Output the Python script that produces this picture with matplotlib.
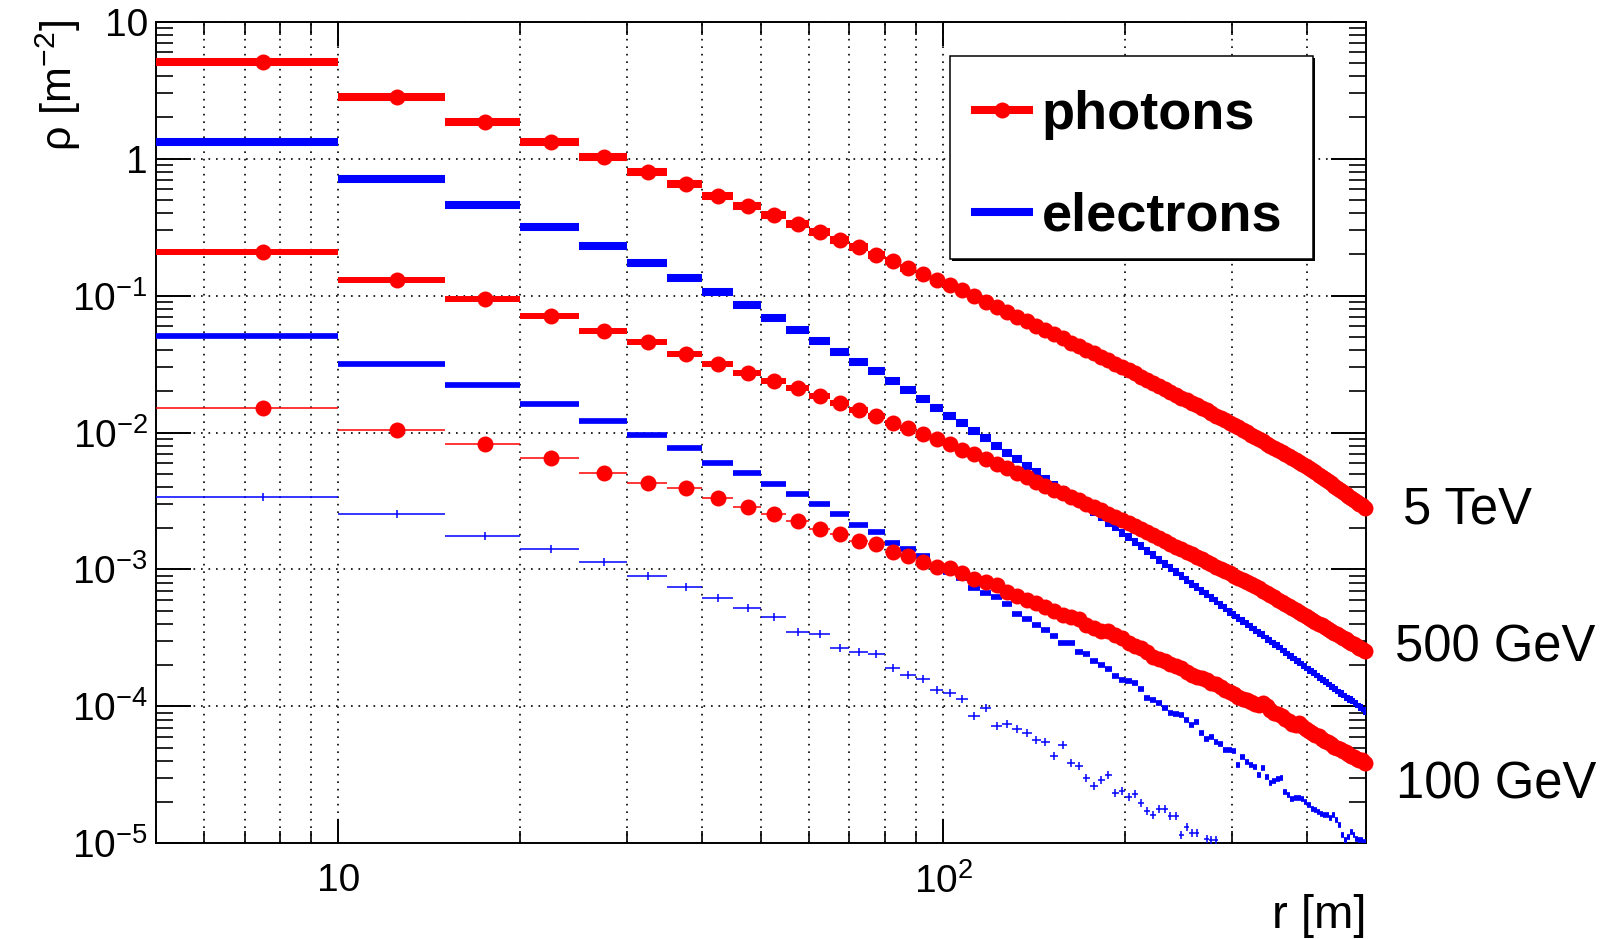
import numpy as np
import matplotlib
matplotlib.use("Agg")
import matplotlib.pyplot as plt
from matplotlib.lines import Line2D
from matplotlib.patches import Rectangle
from matplotlib.ticker import LogLocator, NullFormatter

plt.rcParams["font.family"] = ["Liberation Sans", "DejaVu Sans"]
plt.rcParams["mathtext.fontset"] = "custom"
plt.rcParams["mathtext.rm"] = "Liberation Sans"
plt.rcParams["mathtext.it"] = "Liberation Sans:italic"
plt.rcParams["mathtext.bf"] = "Liberation Sans:bold"

# radial bins of 5 m from 5 m to 500 m
r_lo = np.arange(5, 500, 5)
r_hi = r_lo + 5
r_mid = r_lo + 2.5

# lateral density rho [m^-2] per bin
photons_5tev = [
    5.10, 2.81, 1.85, 1.33, 1.02, 0.800, 0.650, 0.533, 0.452, 0.388,
    0.332, 0.290, 0.255, 0.226, 0.198, 0.179, 0.160, 0.144, 0.130, 0.120,
    0.1089, 0.0989, 0.0902, 0.0826, 0.0757, 0.0700, 0.0647, 0.0598, 0.0557, 0.0520,
    0.0486, 0.0454, 0.0427, 0.0400, 0.0378, 0.0356, 0.0336, 0.0319, 0.0301, 0.0286,
    0.0270, 0.0256, 0.0243, 0.0231, 0.0219, 0.0209, 0.0198, 0.0189, 0.0180, 0.0173,
    0.0165, 0.0158, 0.0151, 0.0145, 0.0139, 0.0133, 0.0128, 0.0123, 0.0118, 0.01138,
    0.01092, 0.01047, 0.01007, 0.00966, 0.00933, 0.00895, 0.00865, 0.00830, 0.00802, 0.00774,
    0.00748, 0.00723, 0.00697, 0.00673, 0.00650, 0.00628, 0.00610, 0.00589, 0.00573, 0.00551,
    0.00531, 0.00512, 0.00491, 0.00473, 0.00456, 0.00441, 0.00425, 0.00409, 0.00395, 0.00381,
    0.00370, 0.00357, 0.00344, 0.00334, 0.00323, 0.00313, 0.00303, 0.00294, 0.00283,
]

electrons_5tev = [
    1.315, 0.713, 0.458, 0.316, 0.231, 0.1726, 0.1349, 0.106, 0.0848, 0.0689,
    0.0560, 0.0466, 0.0389, 0.0327, 0.0279, 0.0239, 0.0204, 0.0175, 0.0152, 0.0132,
    0.01165, 0.01028, 0.00906, 0.00800, 0.00711, 0.00636, 0.00568, 0.00511, 0.00457, 0.00415,
    0.00379, 0.00345, 0.00314, 0.00286, 0.00263, 0.00240, 0.00219, 0.00203, 0.00186, 0.001726,
    0.001589, 0.001476, 0.001371, 0.001271, 0.001180, 0.001104, 0.001023, 0.000957, 0.000895, 0.000843,
    0.000789, 0.000743, 0.000700, 0.000659, 0.000621, 0.000585, 0.000551, 0.000524, 0.000493, 0.000468,
    0.000444, 0.000422, 0.000400, 0.000379, 0.000363, 0.000344, 0.000330, 0.000313, 0.000299, 0.000286,
    0.000274, 0.000261, 0.000250, 0.000239, 0.000229, 0.000218, 0.000210, 0.000201, 0.000194, 0.000185,
    0.000179, 0.000172, 0.000164, 0.000158, 0.000153, 0.000147, 0.000142, 0.000136, 0.000131, 0.000126,
    0.000123, 0.000118, 0.000114, 0.000111, 0.000107, 0.000104, 0.0000996, 0.0000966, 0.0000931,
]

photons_500gev = [
    0.2066, 0.131, 0.0938, 0.0708, 0.0550, 0.0455, 0.0374, 0.0314, 0.0270, 0.0237,
    0.0210, 0.01845, 0.0163, 0.01458, 0.0132, 0.01178, 0.0108, 0.00973, 0.0089, 0.00819,
    0.00743, 0.00692, 0.00636, 0.00587, 0.00547, 0.00508, 0.00470, 0.00437, 0.00406, 0.00379,
    0.00359, 0.00336, 0.00321, 0.00303, 0.00287, 0.00271, 0.00256, 0.00242, 0.00231, 0.00219,
    0.00207, 0.00197, 0.00187, 0.00178, 0.00169, 0.00161, 0.00153, 0.00147, 0.00140, 0.00135,
    0.00129, 0.00124, 0.00119, 0.00114, 0.00109, 0.00105, 0.00101, 0.000973, 0.000935, 0.000902,
    0.000871, 0.000841, 0.000811, 0.000782, 0.000757, 0.000726, 0.000700, 0.000671, 0.000647, 0.000625,
    0.000603, 0.000582, 0.000561, 0.000541, 0.000522, 0.000504, 0.000489, 0.000472, 0.000458, 0.000442,
    0.000429, 0.000416, 0.000402, 0.000390, 0.000378, 0.000367, 0.000356, 0.000346, 0.000336, 0.000326,
    0.000318, 0.000308, 0.000299, 0.000292, 0.000284, 0.000277, 0.000269, 0.000262, 0.000255,
]

electrons_500gev = [
    0.0506, 0.0314, 0.0222, 0.0161, 0.0121, 0.00952, 0.00765, 0.00594, 0.00508, 0.00420,
    0.00353, 0.00303, 0.00252, 0.00211, 0.00188, 0.00157, 0.00140, 0.00126, 0.00104, 0.00096,
    0.00086, 0.000726, 0.000675, 0.000631, 0.000557, 0.000474, 0.000433, 0.000394, 0.000364, 0.000327,
    0.000290, 0.000290, 0.000250, 0.000243, 0.000214, 0.000200, 0.000186, 0.000166, 0.000155, 0.000153,
    0.000149, 0.000135, 0.000115, 0.000111, 0.000106, 0.0000977, 0.0000895, 0.0000877, 0.0000863, 0.0000793,
    0.0000729, 0.0000771, 0.0000634, 0.0000573, 0.0000598, 0.0000551, 0.0000530, 0.0000484, 0.0000479, 0.0000473,
    0.0000372, 0.0000424, 0.0000394, 0.0000372, 0.0000361, 0.0000315, 0.0000356, 0.0000305, 0.0000276, 0.0000285,
    0.0000297, 0.0000302, 0.0000237, 0.0000224, 0.0000212, 0.0000214, 0.0000216, 0.0000212, 0.0000200, 0.0000190,
    0.0000179, 0.0000175, 0.0000170, 0.0000165, 0.0000162, 0.0000160, 0.0000152, 0.0000160, 0.0000148, 0.0000136,
    0.0000115, 0.0000105, 0.0000112, 0.0000121, 0.0000115, 0.0000108, 0.0000106, 0.0000105, 0.0000102,
]

photons_100gev = [
    0.0150, 0.01042, 0.00819, 0.00653, 0.00510, 0.00431, 0.00391, 0.00330, 0.00287, 0.00256,
    0.00225, 0.00196, 0.00181, 0.00162, 0.00153, 0.00135, 0.00125, 0.00114, 0.00105, 0.00102,
    0.000944, 0.000845, 0.000811, 0.000767, 0.000686, 0.000638, 0.000597, 0.000570, 0.000533, 0.000499,
    0.000463, 0.000446, 0.000432, 0.000392, 0.000371, 0.000356, 0.000356, 0.000331, 0.000318, 0.000292,
    0.000275, 0.000266, 0.000251, 0.000229, 0.000221, 0.000216, 0.000204, 0.000197, 0.000191, 0.000179,
    0.000170, 0.000164, 0.000160, 0.000155, 0.000148, 0.000145, 0.000138, 0.000132, 0.000127, 0.000124,
    0.000117, 0.000114, 0.000112, 0.000108, 0.000104, 0.000102, 0.000106, 0.000100, 0.0000944, 0.0000902,
    0.0000881, 0.0000851, 0.0000813, 0.0000776, 0.0000741, 0.0000733, 0.0000759, 0.0000724, 0.0000684, 0.0000661,
    0.0000638, 0.0000617, 0.0000603, 0.0000575, 0.0000556, 0.0000550, 0.0000531, 0.0000501, 0.0000495, 0.0000490,
    0.0000473, 0.0000462, 0.0000447, 0.0000437, 0.0000427, 0.0000412, 0.0000407, 0.0000403, 0.0000385,
]

# bins past ~285 m are empty (below 1e-5)
electrons_100gev = [
    0.00336, 0.00252, 0.00175, 0.00142, 0.001137, 0.000893, 0.000743, 0.000621, 0.000525, 0.000446,
    0.000350, 0.000340, 0.000269, 0.000250, 0.000240, 0.000192, 0.000169, 0.000159, 0.000131, 0.000126,
    0.000113, 0.0000847, 0.0000966, 0.0000716, 0.0000741, 0.0000678, 0.0000640, 0.0000566, 0.0000551, 0.0000433,
    0.0000521, 0.0000389, 0.0000366, 0.0000301, 0.0000262, 0.0000289, 0.0000314, 0.0000233, 0.0000242, 0.0000218,
    0.0000229, 0.0000197, 0.0000173, 0.0000160, 0.0000179, 0.0000179, 0.0000158, 0.0000158, 0.0000115, 0.0000132,
    0.0000118, 0.0000118, np.nan, 0.0000108, 0.0000105, 0.0000105,
] + [np.nan] * 43

energy_labels = ["5 TeV", "500 GeV", "100 GeV"]

RED = "#ff0000"
BLUE = "#0000ff"
MARKER_SIZE = 11.5

fig = plt.figure(figsize=(16.05, 9.39), dpi=100)
ax = fig.add_axes([0.0973, 0.1019, 0.7538, 0.8750])
ax.set_xscale("log")
ax.set_yscale("log")


def draw_hist(values, color, lw, marker=None, ms=0.0, mew=0.0):
    values = np.asarray(values, dtype=float)
    ax.hlines(values, r_lo, r_hi, colors=color, linewidth=lw,
              capstyle="butt", zorder=3)
    if marker is not None:
        ax.plot(r_mid, values, linestyle="none", marker=marker, ms=ms,
                color=color, mew=mew, zorder=3.1,
                clip_on=(marker == "|"))


# photons (red) first, electrons (blue) drawn on top
draw_hist(photons_5tev, RED, 5.8, marker="o", ms=MARKER_SIZE)
draw_hist(photons_500gev, RED, 4.3, marker="o", ms=MARKER_SIZE)
draw_hist(photons_100gev, RED, 1.1, marker="o", ms=MARKER_SIZE)
draw_hist(electrons_5tev, BLUE, 5.8)
draw_hist(electrons_500gev, BLUE, 4.1)
draw_hist(electrons_100gev, BLUE, 1.1, marker="|", ms=5.5, mew=1.1)

ax.set_xticks([10, 100], labels=["10", "$10^{2}$"])
ax.xaxis.set_minor_locator(LogLocator(base=10, subs=np.arange(2, 10), numticks=20))
ax.xaxis.set_minor_formatter(NullFormatter())
ax.set_yticks([1e-5, 1e-4, 1e-3, 1e-2, 1e-1, 1, 10],
              labels=["$10^{-5}$", "$10^{-4}$", "$10^{-3}$", "$10^{-2}$",
                      "$10^{-1}$", "1", "10"])
ax.yaxis.set_minor_locator(LogLocator(base=10, subs=np.arange(2, 10), numticks=20))
ax.yaxis.set_minor_formatter(NullFormatter())
ax.set_xlim(5, 500)
ax.set_ylim(1e-5, 10)

ax.tick_params(axis="both", which="both", direction="in", top=True, right=True)
ax.tick_params(axis="y", which="major", length=25, width=1.4, labelsize=28, pad=6)
ax.tick_params(axis="y", which="minor", length=12.5, width=1.2)
ax.tick_params(axis="x", which="major", length=17, width=1.4, labelsize=28, pad=14)
ax.tick_params(axis="x", which="minor", length=9, width=1.2)
for spine in ax.spines.values():
    spine.set_linewidth(1.4)

ax.set_axisbelow(True)
ax.grid(True, which="major", axis="both", color="black",
        linestyle=(0, (1, 3.5)), linewidth=1.2)
ax.grid(True, which="minor", axis="x", color="black",
        linestyle=(0, (1, 3.5)), linewidth=1.2)

# legend frame with a small drop shadow, as in the original
frame_box = (0.6562, 0.7112, 0.30, 0.2471)
ax.add_patch(Rectangle((frame_box[0] + 0.0018, frame_box[1] - 0.003),
                       frame_box[2], frame_box[3], transform=ax.transAxes,
                       facecolor="black", edgecolor="none", zorder=4.8))
ax.add_patch(Rectangle(frame_box[:2], frame_box[2], frame_box[3],
                       transform=ax.transAxes, facecolor="white",
                       edgecolor="black", linewidth=1.1, zorder=4.9))

handles = [
    Line2D([], [], color=RED, lw=5.8, marker="o", ms=MARKER_SIZE, mew=0),
    Line2D([], [], color=BLUE, lw=5.8),
]
leg = ax.legend(handles, ["photons", "electrons"], loc="upper left",
                bbox_to_anchor=(0.6562, 0.70, 0.30, 0.2471), mode="expand",
                prop={"weight": "bold", "size": 39}, handlelength=1.0,
                handletextpad=0.23, borderpad=0.46, labelspacing=0.95,
                borderaxespad=0, frameon=False)
leg.set_zorder(5)

fig.text(0.0361, 0.979, "\u03c1 [m$^{-2}$]", rotation=90, ha="center",
         va="top", fontsize=31)
fig.text(0.8511, 0.0245, "r [m]", ha="right", va="center", fontsize=34)

label_pos = [(0.8742, 0.4565), (0.8690, 0.3100), (0.8698, 0.1640)]
for text, (xf, yf) in zip(energy_labels, label_pos):
    fig.text(xf, yf, text, ha="left", va="center", fontsize=36.5)

fig.savefig("out.png", dpi=100)
